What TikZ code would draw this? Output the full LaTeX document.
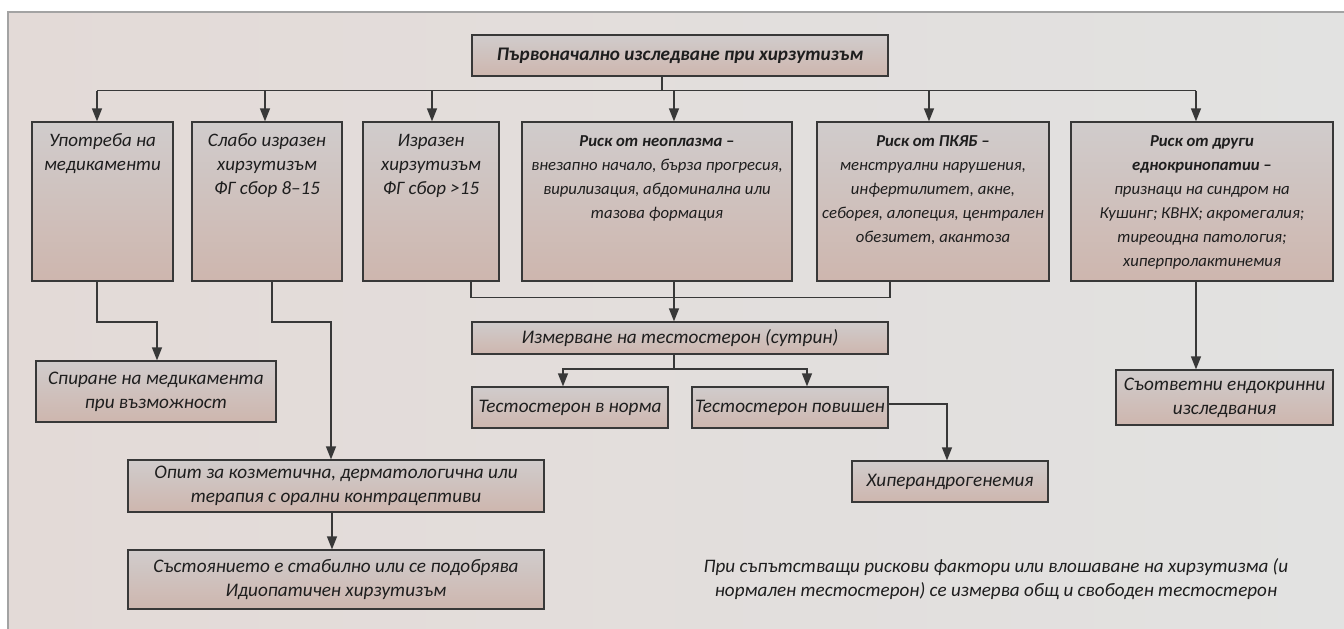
\documentclass[tikz,border=0pt]{standalone}
\usepackage{fontspec}
\setmainfont{Carlito}
\usetikzlibrary{arrows.meta}
\definecolor{boxtop}{HTML}{D0CCCC}
\definecolor{boxbot}{HTML}{CEB6AE}
\definecolor{panelL}{HTML}{E3DAD7}
\definecolor{panelR}{HTML}{E2E2E1}
\definecolor{framec}{HTML}{A3A3A3}
\definecolor{edgec}{HTML}{383838}
\definecolor{ink}{HTML}{1E1E1E}
\newcommand\tline[1]{\hbox to\linewidth{\hss\strut #1\hss}}
\newcommand\tbx[3]{\parbox[t][#1pt][t]{#2pt}{\vspace*{8pt}\baselineskip=24pt #3}}
\tikzset{
  box/.style={draw=edgec, line width=1.3pt, top color=boxtop, bottom color=boxbot,
    inner sep=0pt, align=center, text=ink, font=\fontsize{19.2}{24}\selectfont\itshape},
  tallbox/.style={draw=edgec, line width=1.3pt, top color=boxtop, bottom color=boxbot,
    inner sep=0pt, text=ink, font=\fontsize{19}{24}\selectfont\itshape},
  smallfont/.style={font=\fontsize{16.7}{24}\selectfont\itshape},
  conn/.style={draw=edgec, line width=1.3pt},
  arr/.style={conn, -{Triangle[length=13pt,width=10pt]}},
  notetext/.style={align=center, text=ink, font=\fontsize{19.1}{24}\selectfont\itshape},
}
\begin{document}
\begin{tikzpicture}[x=1pt,y=-1pt]
\useasboundingbox (0,0) rectangle (1344,629);
\fill[white] (0,0) rectangle (1344,629);
\shade[left color=panelL, right color=panelR] (8,12) rectangle (1344,629);
\draw[framec, line width=1.5pt] (8,629) -- (8,12) -- (1344,12);

% boxes
\node[box, minimum width=416pt, minimum height=41pt] (top) at (680,55.5)
  {\bfseries Първоначално изследване при хирзутизъм};
\node[tallbox] (b1) at (102.5,201.5) {\tbx{159}{141}{\tline{Употреба на}\tline{медикаменти}}};
\node[tallbox] (b2) at (267,201.5) {\tbx{159}{150}{\tline{Слабо изразен}\tline{хирзутизъм}\tline{ФГ сбор 8–15}}};
\node[tallbox] (b3) at (431,201.5) {\tbx{159}{136}{\tline{Изразен}\tline{хирзутизъм}\tline{ФГ сбор >15}}};
\node[tallbox, smallfont] (b4) at (657,201.5) {\tbx{159}{270}{\tline{\bfseries Риск от неоплазма –}\tline{внезапно начало, бърза прогресия,}\tline{вирилизация, абдоминална или}\tline{тазова формация}}};
\node[tallbox, smallfont] (b5) at (933,201.5) {\tbx{159}{232}{\tline{\bfseries Риск от ПКЯБ –}\tline{менструални нарушения,}\tline{инфертилитет, акне,}\tline{себорея, алопеция, централен}\tline{обезитет, акантоза}}};
\node[tallbox, smallfont] (b6) at (1202,201.5) {\tbx{159}{262}{\tline{\bfseries Риск от други}\tline{\bfseries еднокринопатии –}\tline{признаци на синдром на}\tline{Кушинг; КВНХ; акромегалия;}\tline{тиреоидна патология;}\tline{хиперпролактинемия}}};

\node[box, minimum width=240pt, minimum height=61pt] (spir) at (156,391.5)
  {Спиране на медикамента\\при възможност};
\node[box, minimum width=416pt, minimum height=52pt] (opit) at (336,486)
  {Опит за козметична, дерматологична или\\терапия с орални контрацептиви};
\node[box, minimum width=416pt, minimum height=59pt] (sust) at (336,579.5)
  {Състоянието е стабилно или се подобрява\\Идиопатичен хирзутизъм};
\node[box, minimum width=416pt, minimum height=32pt] (izm) at (680,338)
  {Измерване на тестостерон (сутрин)};
\node[box, minimum width=196pt, minimum height=41pt] (norm) at (570,407.5)
  {Тестостерон в норма};
\node[box, minimum width=196pt, minimum height=41pt] (pov) at (790,407.5)
  {Тестостерон повишен};
\node[box, minimum width=196pt, minimum height=41pt] (hip) at (950,481.5)
  {Хиперандрогенемия};
\node[box, minimum width=217pt, minimum height=55pt] (sotv) at (1224.5,397.5)
  {Съответни ендокринни\\изследвания};
\node[notetext] (note) at (996,579)
  {При съпътстващи рискови фактори или влошаване на хирзутизма (и\\нормален тестостерон) се измерва общ и свободен тестостерон};

% connector coordinates
\coordinate (xt) at (662,90.7);
\coordinate (xa1) at (97,90.7);
\coordinate (xa2) at (265,90.7);
\coordinate (xa3) at (432,90.7);
\coordinate (xa4) at (674,90.7);
\coordinate (xa5) at (929,90.7);
\coordinate (xa6) at (1196,90.7);
\coordinate (lb3) at (471,297.5);
\coordinate (lb5) at (890,297.5);
\coordinate (k1) at (97,322);
\coordinate (k1b) at (157,322);
\coordinate (k2) at (272,322);
\coordinate (k2b) at (331,322);
\coordinate (k3) at (332,530);
\coordinate (k4) at (674,369);
\coordinate (k4a) at (563,369);
\coordinate (k4b) at (807,369);
\coordinate (k5) at (947,404);

% connectors
\draw[conn] (xt |- top.south) -- (xt);
\draw[conn] (xa1) -- (xa6);
\draw[arr] (xa1) -- (xa1 |- b1.north);
\draw[arr] (xa2) -- (xa2 |- b2.north);
\draw[arr] (xa3) -- (xa3 |- b3.north);
\draw[arr] (xa4) -- (xa4 |- b4.north);
\draw[arr] (xa5) -- (xa5 |- b5.north);
\draw[arr] (xa6) -- (xa6 |- b6.north);

\draw[conn] (lb3 |- b3.south) -- (lb3) -- (lb5) -- (lb5 |- b5.south);
\draw[arr] (xa4 |- b4.south) -- (xa4 |- izm.north);

\draw[arr] (k1 |- b1.south) -- (k1) -- (k1b) -- (k1b |- spir.north);
\draw[arr] (k2 |- b2.south) -- (k2) -- (k2b) -- (k2b |- opit.north);
\draw[arr] (k3 |- opit.south) -- (k3 |- sust.north);

\draw[conn] (k4 |- izm.south) -- (k4);
\draw[arr] (k4) -- (k4a) -- (k4a |- norm.north);
\draw[arr] (k4) -- (k4b) -- (k4b |- pov.north);
\draw[arr] (k5 -| pov.east) -- (k5) -- (k5 |- hip.north);
\draw[arr] (xa6 |- b6.south) -- (xa6 |- sotv.north);
\end{tikzpicture}
\end{document}
